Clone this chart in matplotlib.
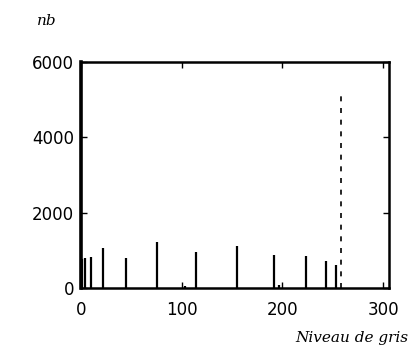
import matplotlib
matplotlib.use("Agg")
import matplotlib.pyplot as plt

# Histogram of grey levels: level -> pixel count
levels = [1, 4, 10, 22, 45, 76, 103, 114, 155, 192, 197, 224, 243, 253, 258]
counts = [780, 800, 820, 1060, 800, 1220, 50, 955, 1115, 875, 80, 850, 715, 610, 5120]

x_ticks = [0, 100, 200, 300]
y_ticks = [0, 2000, 4000, 6000]

fig = plt.figure(figsize=(4.13, 3.57), dpi=100)
ax = fig.add_axes([0.196, 0.193, 0.746, 0.633])

for lv, c in zip(levels, counts):
    if c > 3000:
        ax.vlines(lv, 0, c, color="black", linewidth=1.2, linestyles=(0, (3, 4)))
    else:
        ax.vlines(lv, 0, c, color="black", linewidth=1.6)

ax.set_xlim(0, 306)
ax.set_ylim(0, 6000)
ax.set_xticks(x_ticks)
ax.set_yticks(y_ticks)
ax.tick_params(direction="in", top=True, right=True, length=4, width=1,
               labelsize=12)
ax.tick_params(axis="x", pad=9)
ax.tick_params(axis="y", pad=5)
for s in ax.spines.values():
    s.set_linewidth(1.8)
ax.spines["left"].set_linewidth(2.6)

fig.text(0.09, 0.94, "nb", fontsize=11, style="italic", family="DejaVu Serif",
         ha="left", va="center")
fig.text(0.99, 0.053, "Niveau de gris", fontsize=11, style="italic",
         family="DejaVu Serif", ha="right", va="center")

fig.savefig("out.png", dpi=100, facecolor="white")
